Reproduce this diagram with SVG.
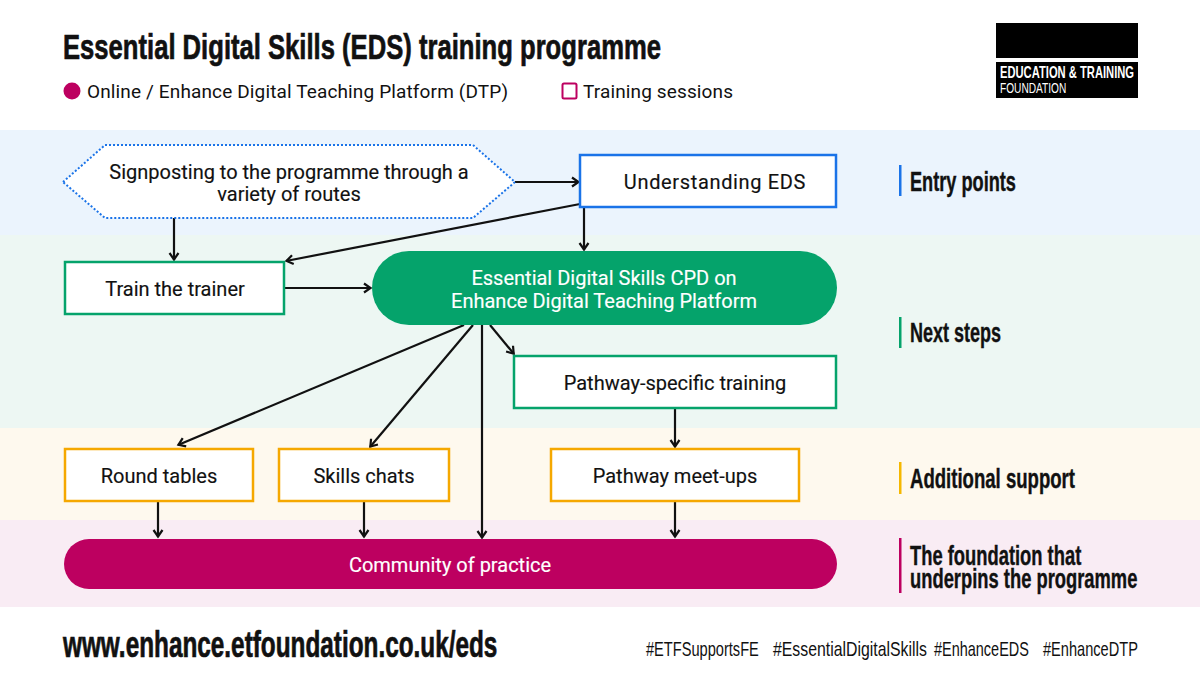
<svg xmlns="http://www.w3.org/2000/svg" width="1200" height="675" viewBox="0 0 1200 675">
<style>
text{font-family:Roboto,"Liberation Sans",sans-serif;fill:#111}
.b{font-size:20px;text-anchor:middle;stroke:#111;stroke-width:.15}
.b.w{stroke:#fff}
.w{fill:#fff}
.h{font-family:"Liberation Sans",Roboto,sans-serif;font-weight:700;font-size:27px;stroke:#111;stroke-width:.4}
.t{font-size:36px;stroke-width:.7}
.f{font-family:"Liberation Sans",Roboto,sans-serif;font-size:20px}
.box{fill:#fff;stroke-width:2.5}
.c{fill:none;stroke:#111;stroke-width:2.200;marker-end:url(#a)}
</style>
<defs><marker id="a" markerUnits="userSpaceOnUse" markerWidth="12" markerHeight="12" refX="9.500" refY="6" orient="auto"><path d="M2.500 1.500L9 6L2.500 10.500" fill="none" stroke="#111" stroke-width="2.200"/></marker></defs>
<rect width="1200" height="675" fill="#fff"/>
<g id="bands">
<rect y="130" width="1200" height="105" fill="#ebf4fd"/>
<rect y="235" width="1200" height="193" fill="#edf7f3"/>
<rect y="428" width="1200" height="92" fill="#fef9ee"/>
<rect y="520" width="1200" height="87" fill="#f9ecf4"/>
</g>
<g id="header">
<text transform="translate(63 59) scale(.712 1)" class="h t">Essential Digital Skills (EDS) training programme</text>
<circle cx="72" cy="91" r="8.500" fill="#bd0060"/>
<text x="87" y="98" style="font-size:19px" textLength="421" lengthAdjust="spacing">Online / Enhance Digital Teaching Platform (DTP)</text>
<rect x="562.500" y="83.500" width="14" height="15" rx="1.500" fill="#fff" stroke="#bd0060" stroke-width="2"/>
<text x="583" y="98" style="font-size:19px" textLength="150" lengthAdjust="spacing">Training sessions</text>
</g>
<g id="logo">
<rect x="996" y="23" width="142" height="35" fill="#000"/>
<rect x="996" y="62" width="142" height="36" fill="#000"/>
<text transform="translate(1000 78) scale(.7 1)" class="w" style="font-family:'Liberation Sans',sans-serif;font-size:16px"><tspan font-weight="700">EDUCATION &amp; TRAINING</tspan><tspan x="0" dy="15" font-size="14.500">FOUNDATION</tspan></text>
</g>
<g id="connectors">
<path class="c" d="M515 182H579"/>
<path class="c" d="M174 218V260"/>
<path class="c" d="M580 204L286 261"/>
<path class="c" d="M584 208V250"/>
<path class="c" d="M285 288H371"/>
<path class="c" d="M464 325L178 445"/>
<path class="c" d="M473 325L370 447"/>
<path class="c" d="M482 325V538"/>
<path class="c" d="M490 325L514 354"/>
<path class="c" d="M675 408V447"/>
<path class="c" d="M158 502V537"/>
<path class="c" d="M364 502V537"/>
<path class="c" d="M675 502V537"/>
</g>
<g id="signposting">
<path d="M63 182L105 145H473L515 182L473 218H105Z" fill="#fff" stroke="#1a73e8" stroke-width="2" stroke-dasharray="2 2"/>
<text x="289" y="179" class="b">Signposting to the programme through a</text>
<text x="289" y="201" class="b">variety of routes</text>
</g>
<g id="understanding"><rect x="580" y="155" width="256" height="52" class="box" stroke="#1a73e8"/><text x="715" y="188.500" class="b" style="letter-spacing:.65px">Understanding EDS</text></g>
<g id="trainer"><rect x="65" y="262" width="219" height="52" class="box" stroke="#05a36b"/><text x="175" y="295.500" class="b">Train the trainer</text></g>
<g id="cpd"><rect x="372" y="251" width="465" height="74" rx="37" fill="#05a36b"/><text x="604" y="285" class="b w">Essential Digital Skills CPD on</text><text x="604" y="307.500" class="b w">Enhance Digital Teaching Platform</text></g>
<g id="pathway"><rect x="514" y="356" width="322" height="52" class="box" stroke="#05a36b"/><text x="675" y="389.500" class="b">Pathway-specific training</text></g>
<g id="round"><rect x="65" y="449" width="188" height="52" class="box" stroke="#f5a800"/><text x="159" y="482.500" class="b">Round tables</text></g>
<g id="chats"><rect x="279" y="449" width="170" height="52" class="box" stroke="#f5a800"/><text x="364" y="482.500" class="b">Skills chats</text></g>
<g id="meetups"><rect x="551" y="449" width="248" height="52" class="box" stroke="#f5a800"/><text x="675" y="482.500" class="b">Pathway meet-ups</text></g>
<g id="community"><rect x="64" y="539" width="773" height="50" rx="25" fill="#bd0060"/><text x="450" y="571.500" class="b w">Community of practice</text></g>
<g id="labels">
<rect x="899" y="165" width="2.500" height="31" fill="#1a73e8"/>
<text transform="translate(910 191) scale(.673 1)" class="h">Entry points</text>
<rect x="899" y="317" width="2.500" height="31" fill="#05a36b"/>
<text transform="translate(910 342) scale(.667 1)" class="h">Next steps</text>
<rect x="899" y="462" width="2.500" height="32" fill="#f5b800"/>
<text transform="translate(910 488) scale(.688 1)" class="h">Additional support</text>
<rect x="899" y="538" width="2.500" height="55" fill="#bd0060"/>
<text transform="translate(910 565) scale(.68 1)" class="h">The foundation that<tspan x="0" dy="23">underpins the programme</tspan></text>
</g>
<g id="footer">
<text transform="translate(63 657) scale(.676 1)" class="h t">www.enhance.etfoundation.co.uk/eds</text>
<text transform="translate(646 656) scale(.731 1)" class="f">#ETFSupportsFE</text>
<text transform="translate(773 656) scale(.792 1)" class="f">#EssentialDigitalSkills</text>
<text transform="translate(934 656) scale(.724 1)" class="f">#EnhanceEDS</text>
<text transform="translate(1043 656) scale(.73 1)" class="f">#EnhanceDTP</text>
</g>
</svg>
